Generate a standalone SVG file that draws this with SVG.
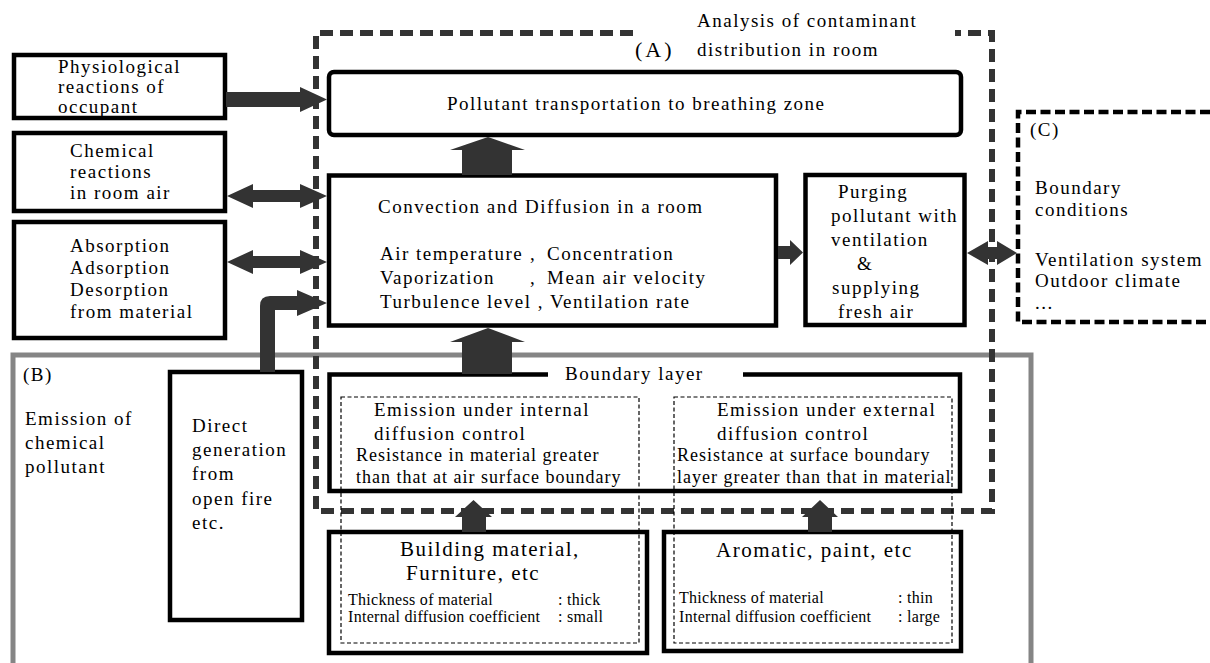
<svg xmlns="http://www.w3.org/2000/svg" width="1210" height="663" viewBox="0 0 1210 663">
<style>
text{font-family:"Liberation Serif","Times New Roman",serif;fill:#000}
.t{font-size:19px;letter-spacing:1.5px}
.r{font-size:18px;letter-spacing:1px}
.m{font-size:21px;letter-spacing:1.5px}
.s{font-size:16px;letter-spacing:0.3px}
.lab{font-size:22px;letter-spacing:3px}
.box{fill:#fff;stroke:#000;stroke-width:4.5}
.thin{fill:none;stroke:#000;stroke-width:1.2;stroke-dasharray:4 2.5}
.arr{fill:#333;stroke:none}
.dashA{fill:none;stroke:#333;stroke-width:6;stroke-dasharray:13 7}
.dashC{fill:none;stroke:#000;stroke-width:4.5;stroke-dasharray:10 4.5}
</style>
<rect width="1210" height="663" fill="#fff"/>

<g id="region-B">
  <rect x="13" y="355" width="1018" height="400" fill="none" stroke="#858585" stroke-width="5"/>
  <text class="t" x="23" y="381">(B)</text>
  <text class="t" x="25" y="425">Emission of</text>
  <text class="t" x="25" y="449">chemical</text>
  <text class="t" x="25" y="473">pollutant</text>
</g>

<g id="region-A">
  <path class="dashA" d="M633,33 H316 V511 H992 V33 H955"/>
  <text class="lab" x="635" y="57">(A)</text>
  <text class="t" x="697" y="27">Analysis of contaminant</text>
  <text class="t" x="697" y="56">distribution in room</text>
</g>

<g id="region-C">
  <path class="dashC" d="M1210,112 H1018 V322 H1210"/>
  <text class="t" x="1030" y="136">(C)</text>
  <text class="t" x="1035" y="194">Boundary</text>
  <text class="t" x="1035" y="216">conditions</text>
  <text class="t" x="1035" y="266">Ventilation system</text>
  <text class="t" x="1035" y="287">Outdoor climate</text>
  <text class="t" x="1035" y="309">...</text>
</g>

<g id="node-physiological">
  <rect class="box" x="14" y="55" width="211" height="63"/>
  <text class="t" x="58" y="73">Physiological</text>
  <text class="t" x="58" y="93">reactions of</text>
  <text class="t" x="58" y="113">occupant</text>
</g>

<g id="node-chemical">
  <rect class="box" x="14" y="133" width="211" height="78"/>
  <text class="t" x="70" y="157">Chemical</text>
  <text class="t" x="70" y="178">reactions</text>
  <text class="t" x="70" y="199">in room air</text>
</g>

<g id="node-absorption">
  <rect class="box" x="14" y="222" width="211" height="116"/>
  <text class="t" x="70" y="252">Absorption</text>
  <text class="t" x="70" y="274">Adsorption</text>
  <text class="t" x="70" y="296">Desorption</text>
  <text class="t" x="70" y="318">from material</text>
</g>

<g id="node-pollutant-transport">
  <rect class="box" x="329" y="72" width="632" height="63" rx="5"/>
  <text class="t" x="447" y="110">Pollutant transportation to breathing zone</text>
</g>

<g id="node-convection">
  <rect class="box" x="329" y="175.5" width="447" height="150"/>
  <text class="t" x="378" y="213">Convection and Diffusion in a room</text>
  <text class="t" x="380" y="260">Air temperature</text>
  <text class="t" x="530" y="260">,</text>
  <text class="t" x="547" y="260">Concentration</text>
  <text class="t" x="380" y="284">Vaporization</text>
  <text class="t" x="530" y="284">,</text>
  <text class="t" x="547" y="284">Mean air velocity</text>
  <text class="t" x="380" y="308">Turbulence level , Ventilation rate</text>
</g>

<g id="node-purging">
  <rect class="box" x="805.5" y="175" width="159" height="150"/>
  <text class="t" x="838" y="198">Purging</text>
  <text class="t" x="831" y="222">pollutant with</text>
  <text class="t" x="831" y="246">ventilation</text>
  <text class="t" x="857" y="270">&amp;</text>
  <text class="t" x="832" y="294">supplying</text>
  <text class="t" x="838" y="318">fresh air</text>
</g>

<g id="node-direct-generation">
  <rect class="box" x="170" y="372" width="132" height="248"/>
  <text class="t" x="192" y="432">Direct</text>
  <text class="t" x="192" y="456">generation</text>
  <text class="t" x="192" y="480">from</text>
  <text class="t" x="192" y="505">open fire</text>
  <text class="t" x="192" y="529">etc.</text>
</g>

<g id="node-boundary-layer">
  <rect x="329.5" y="374.5" width="630.5" height="116.5" fill="#fff"/>
  <path d="M548,374.5 H329.5 V491 H960 V374.5 H743" fill="none" stroke="#000" stroke-width="4.5"/>
  <text class="t" x="565" y="380">Boundary layer</text>
</g>

<g id="node-building-material">
  <rect class="box" x="329" y="532" width="318" height="121"/>
  <text class="m" x="400" y="556">Building material,</text>
  <text class="m" x="406" y="580">Furniture, etc</text>
  <text class="s" x="348" y="605">Thickness of material</text>
  <text class="s" x="558" y="605">: thick</text>
  <text class="s" x="348" y="622">Internal diffusion coefficient</text>
  <text class="s" x="558" y="622">: small</text>
</g>

<g id="node-aromatic">
  <rect class="box" x="664" y="532" width="297" height="119"/>
  <text class="m" x="716" y="557">Aromatic, paint, etc</text>
  <text class="s" x="679" y="603">Thickness of material</text>
  <text class="s" x="898" y="603">: thin</text>
  <text class="s" x="679" y="622">Internal diffusion coefficient</text>
  <text class="s" x="898" y="622">: large</text>
</g>

<g id="node-internal-control">
  <rect class="thin" x="341" y="397" width="298" height="246"/>
  <text class="t" x="374" y="416">Emission under internal</text>
  <text class="t" x="374" y="440">diffusion control</text>
  <text class="r" x="356" y="461">Resistance in material greater</text>
  <text class="r" x="356" y="483">than that at air surface boundary</text>
</g>

<g id="node-external-control">
  <rect class="thin" x="674" y="397" width="278" height="246"/>
  <text class="t" x="717" y="416">Emission under external</text>
  <text class="t" x="717" y="440">diffusion control</text>
  <text class="r" x="677" y="461">Resistance at surface boundary</text>
  <text class="r" x="677" y="483">layer greater than that in material</text>
</g>

<g id="connectors">
  <path class="arr" d="M226,92 H300 V87 L327,99.5 L300,112 V107 H226 Z"/>
  <path class="arr" d="M227,196 L253,184 V190 H300 V184 L327,196 L300,208 V202 H253 V208 Z"/>
  <path class="arr" d="M227,262 L253,250 V256 H300 V250 L327,262 L300,274 V268 H253 V274 Z"/>
  <path class="arr" d="M260,372 V306 Q260,296 270,296 H297 V290 L327,303 L297,316 V310 H275 V372 Z"/>
  <path class="arr" d="M462,175 V150 H450 L488,137 L525,150 H512 V175 Z"/>
  <path class="arr" d="M462,374 V342 H450 L488,328 L525,342 H512 V374 Z"/>
  <path class="arr" d="M778,246 H790 V240 L803,252.5 L790,265 V259 H778 Z"/>
  <path class="arr" d="M967,253 L988,241 V247 H997 V241 L1017,253 L997,265 V259 H988 V265 Z"/>
  <path class="arr" d="M462,532 V517 H455 L473.5,500 L492,517 H486 V532 Z"/>
  <path class="arr" d="M808,532 V517 H802 L820,500 L838,517 H832 V532 Z"/>
</g>
</svg>
